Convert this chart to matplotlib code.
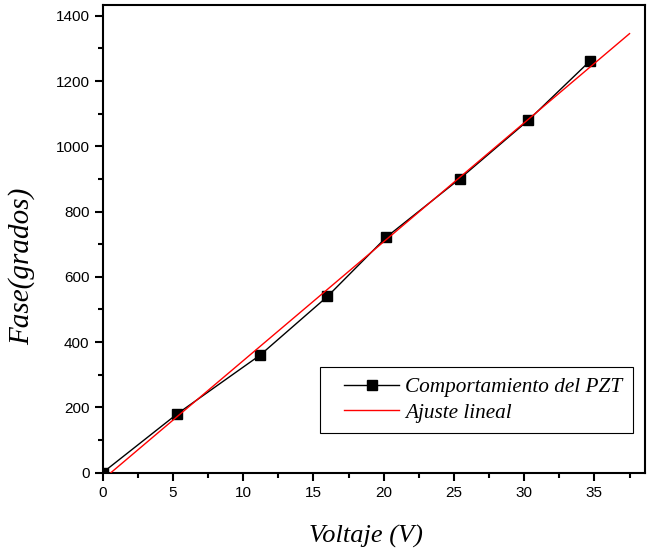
import numpy as np
import matplotlib.pyplot as plt
from matplotlib.ticker import MultipleLocator
from matplotlib.legend_handler import HandlerLine2D

# datos medidos
voltaje = np.array([0.0, 5.3, 11.2, 16.0, 20.2, 25.4, 30.3, 34.7])
fase = np.array([0, 180, 360, 540, 722, 900, 1080, 1262])

# ajuste lineal
m, b = np.polyfit(voltaje, fase, 1)
xf = np.linspace(0, 37.5, 200)
yf = m * xf + b

fig = plt.figure(figsize=(6.47, 5.54), dpi=100)
ax = fig.add_axes([0.1587, 0.1468, 0.8382, 0.8442])

l1, = ax.plot(voltaje, fase, "k-", lw=1, marker="s", ms=7, mfc="k", mec="k",
              label="Comportamiento del PZT", zorder=3)
l2, = ax.plot(xf, yf, "r-", lw=1, label="Ajuste lineal", zorder=4)

ax.set_xlim(0, 38.6)
ax.set_ylim(0, 1433)
ax.xaxis.set_major_locator(MultipleLocator(5))
ax.xaxis.set_minor_locator(MultipleLocator(2.5))
ax.yaxis.set_major_locator(MultipleLocator(200))
ax.yaxis.set_minor_locator(MultipleLocator(100))
ax.tick_params(which="both", direction="out", top=False, right=False, width=1.5,
               labelsize=11)
ax.tick_params(which="major", length=6)
ax.tick_params(which="minor", length=3.5)
for lab in ax.get_xticklabels() + ax.get_yticklabels():
    lab.set_family("Liberation Sans")
for s in ax.spines.values():
    s.set_linewidth(1.5)

serif = {"family": "Liberation Serif", "style": "italic", "size": 19}
ax.set_xlabel("Voltaje (V)", fontdict=serif)
ax.xaxis.set_label_coords(0.4855, -0.111)
ax.set_ylabel("Fase(grados)", fontdict={**serif, "size": 21})
ax.yaxis.set_label_coords(-0.1248, 0.442)

hmap = {l1: HandlerLine2D(xpad=0.65), l2: HandlerLine2D(xpad=0.65)}
leg = ax.legend(loc="upper left", bbox_to_anchor=(0.4007, 0.226), borderaxespad=0,
                frameon=True, fancybox=False, edgecolor="k", framealpha=1,
                borderpad=0.5, handlelength=3.2, handletextpad=0.29,
                labelspacing=0.25, handler_map=hmap,
                prop={"family": "Liberation Serif", "style": "italic", "size": 15.3})
leg.get_frame().set_linewidth(0.8)

fig.savefig("out.png", dpi=100)
